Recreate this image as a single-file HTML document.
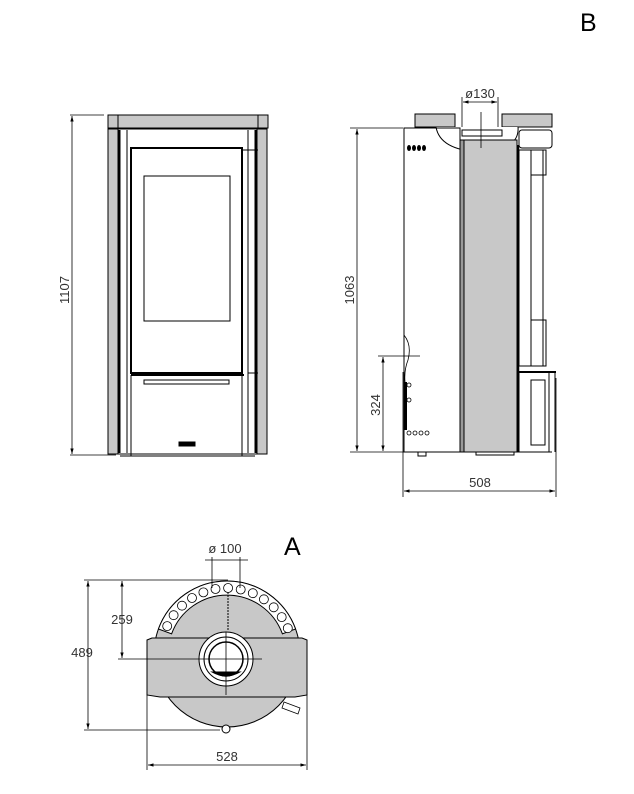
<!DOCTYPE html>
<html><head><meta charset="utf-8"><style>
html,body{margin:0;padding:0;background:#fff;}
svg{display:block;font-family:"Liberation Sans",sans-serif;}
</style></head><body>
<svg width="634" height="794" viewBox="0 0 634 794" xmlns="http://www.w3.org/2000/svg">
<defs>
<marker id="ar" viewBox="0 0 10 10" refX="10" refY="5" markerWidth="7" markerHeight="7" orient="auto-start-reverse"><path d="M0,2 L10,5 L0,8 z" fill="#000"/></marker>
</defs>
<g fill="none" stroke="#000" stroke-width="1">
<!-- FRONT VIEW -->
<rect x="108" y="115" width="160" height="13" fill="#c8c8c8"/>
<line x1="118" y1="115" x2="118" y2="128"/><line x1="258" y1="115" x2="258" y2="128"/>
<rect x="108" y="129" width="10" height="325" fill="#c8c8c8"/>
<rect x="257" y="129" width="10" height="325" fill="#c8c8c8"/>
<rect x="118" y="129" width="139" height="325"/>
<line x1="119" y1="130" x2="119" y2="453" stroke-width="3"/>
<line x1="256" y1="130" x2="256" y2="453" stroke-width="3"/>
<line x1="127" y1="130" x2="127" y2="453"/><line x1="248" y1="130" x2="248" y2="453"/>
<rect x="131" y="148" width="111" height="225" stroke-width="2"/>
<line x1="242" y1="150" x2="258" y2="150"/><line x1="248" y1="373" x2="258" y2="373"/>
<rect x="144" y="176" width="86" height="145"/>
<line x1="131" y1="375" x2="244" y2="375" stroke-width="2"/>
<rect x="144" y="380" width="85" height="4"/>
<line x1="131" y1="375" x2="131" y2="456"/><line x1="242" y1="375" x2="242" y2="456"/>
<line x1="120" y1="456" x2="255" y2="456"/>
<rect x="179" y="442" width="16" height="4" fill="#000"/>
<line x1="70" y1="115" x2="104" y2="115" stroke-width="0.8"/>
<line x1="70" y1="455" x2="116" y2="455" stroke-width="0.8"/>
<line x1="72" y1="116" x2="72" y2="454" stroke-width="0.8" marker-start="url(#ar)" marker-end="url(#ar)"/>

<!-- SIDE VIEW -->
<rect x="415" y="114" width="40" height="13" fill="#c8c8c8"/>
<rect x="502" y="114" width="50" height="13" fill="#c8c8c8"/>
<path d="M436,127 Q440,150 480,152 Q520,150 518,127" fill="#fff"/>
<rect x="462" y="130" width="40" height="6" fill="#fff"/>
<rect x="404" y="128" width="56" height="324"/>
<rect x="460" y="140" width="4" height="312" fill="#999"/>
<rect x="464" y="140" width="53" height="312" fill="#c8c8c8"/>
<line x1="518" y1="145" x2="518" y2="452" stroke-width="2.5"/>
<rect x="519" y="130" width="33" height="18" rx="3"/>
<rect x="519" y="150" width="24" height="216"/>
<line x1="531" y1="150" x2="531" y2="366"/>
<rect x="531" y="150" width="15" height="25"/>
<rect x="531" y="320" width="15" height="46"/>
<rect x="519" y="372" width="30" height="80"/>
<rect x="531" y="380" width="14" height="65"/>
<line x1="519" y1="372" x2="556" y2="372" stroke-width="2"/>
<line x1="555" y1="372" x2="555" y2="452"/>
<line x1="404" y1="452" x2="552" y2="452"/>
<rect x="418" y="452" width="8" height="4"/><rect x="476" y="452" width="38" height="3"/>
<g fill="#000" stroke="none">
<ellipse cx="409" cy="148" rx="2" ry="3"/><ellipse cx="414" cy="148" rx="2" ry="3"/><ellipse cx="419" cy="148" rx="2" ry="3"/><ellipse cx="424" cy="148" rx="2" ry="3"/>
<rect x="404" y="382" width="3" height="48"/>
</g>
<g stroke-width="0.8"><circle cx="409" cy="385" r="2"/><circle cx="409" cy="400" r="2"/><circle cx="409" cy="433" r="2"/><circle cx="415" cy="433" r="2"/><circle cx="421" cy="433" r="2"/><circle cx="427" cy="433" r="2"/></g>
<path d="M404,335 Q412,345 408,360 Q404,370 405,382" stroke-width="0.8"/>
<line x1="350" y1="128" x2="403" y2="128" stroke-width="0.8"/>
<line x1="350" y1="452" x2="404" y2="452" stroke-width="0.8"/>
<line x1="357" y1="129" x2="357" y2="451" stroke-width="0.8" marker-start="url(#ar)" marker-end="url(#ar)"/>
<line x1="378" y1="356" x2="420" y2="356" stroke-width="0.8"/>
<line x1="383" y1="357" x2="383" y2="451" stroke-width="0.8" marker-start="url(#ar)" marker-end="url(#ar)"/>
<line x1="403" y1="372" x2="403" y2="497" stroke-width="0.8"/>
<line x1="556" y1="378" x2="556" y2="497" stroke-width="0.8"/>
<line x1="404" y1="491" x2="555" y2="491" stroke-width="0.8" marker-start="url(#ar)" marker-end="url(#ar)"/>
<line x1="462" y1="97" x2="462" y2="127" stroke-width="0.8"/>
<line x1="498" y1="97" x2="498" y2="127" stroke-width="0.8"/>
<line x1="463" y1="102" x2="497" y2="102" stroke-width="0.8" marker-start="url(#ar)" marker-end="url(#ar)"/>
<line x1="481" y1="112" x2="481" y2="148" stroke-width="0.8"/>

<!-- TOP VIEW -->
<circle cx="227" cy="654" r="73" fill="#c8c8c8"/>
<path d="M152,638 L147,640 L147,695 L160,697 L295,697 L307,695 L307,640 L302,638 Z" fill="#c8c8c8"/>
<path d="M158.4,629 A73,73 0 0 1 295.6,629 L282.4,633.8 A59,59 0 0 0 171.6,633.8 Z" fill="#fff"/>
<g stroke-width="0.8" fill="#fff">
<circle cx="167.2" cy="626.1" r="4.5"/><circle cx="173.6" cy="615.2" r="4.5"/><circle cx="182" cy="605.7" r="4.5"/><circle cx="192" cy="598" r="4.5"/><circle cx="203.4" cy="592.4" r="4.5"/><circle cx="215.5" cy="589" r="4.5"/><circle cx="228.1" cy="588" r="4.5"/><circle cx="240.7" cy="589.5" r="4.5"/><circle cx="252.8" cy="593.2" r="4.5"/><circle cx="263.9" cy="599.3" r="4.5"/><circle cx="273.7" cy="607.3" r="4.5"/><circle cx="281.7" cy="617.1" r="4.5"/><circle cx="287.8" cy="628.2" r="4.5"/>
</g>
<circle cx="226" cy="659" r="27" fill="#fff"/>
<circle cx="226" cy="659" r="22" fill="#fff"/>
<circle cx="226" cy="659" r="17" fill="#fff" stroke-width="1.5"/>
<path d="M212,672 Q226,680 240,672 Z" fill="#000"/>
<circle cx="226" cy="729" r="4" fill="#fff"/>
<path d="M284,702 L300,708 L298,714 L282,708 Z" fill="#fff" stroke-width="0.8"/>
<line x1="228" y1="592" x2="228" y2="631" stroke-width="1" stroke-dasharray="2,1"/>
<line x1="226" y1="632" x2="226" y2="695" stroke-width="0.8"/>
<line x1="118" y1="659" x2="262" y2="659" stroke-width="0.8"/>
<line x1="84" y1="580" x2="228" y2="580" stroke-width="0.8"/>
<line x1="84" y1="730" x2="220" y2="730" stroke-width="0.8"/>
<line x1="88" y1="581" x2="88" y2="729" stroke-width="0.8" marker-start="url(#ar)" marker-end="url(#ar)"/>
<line x1="122" y1="581" x2="122" y2="658" stroke-width="0.8" marker-start="url(#ar)" marker-end="url(#ar)"/>
<line x1="147" y1="670" x2="147" y2="770" stroke-width="0.8"/>
<line x1="307" y1="670" x2="307" y2="770" stroke-width="0.8"/>
<line x1="148" y1="765" x2="306" y2="765" stroke-width="0.8" marker-start="url(#ar)" marker-end="url(#ar)"/>
<line x1="212" y1="557" x2="212" y2="588" stroke-width="0.8"/>
<line x1="240" y1="557" x2="240" y2="588" stroke-width="0.8"/>
<line x1="205" y1="560" x2="248" y2="560" stroke-width="0.8"/>
</g>
<g fill="#333" font-size="13">
<text x="0" y="0" transform="translate(69,290) rotate(-90)" text-anchor="middle">1107</text>
<text x="0" y="0" transform="translate(354,290) rotate(-90)" text-anchor="middle">1063</text>
<text x="0" y="0" transform="translate(380,405) rotate(-90)" text-anchor="middle">324</text>
<text x="480" y="487" text-anchor="middle">508</text>
<text x="480" y="98" text-anchor="middle">ø130</text>
<text x="82" y="657" text-anchor="middle">489</text>
<text x="122" y="624" text-anchor="middle">259</text>
<text x="227" y="761" text-anchor="middle">528</text>
<text x="225" y="553" text-anchor="middle">ø  100</text>
</g>
<text x="580" y="31" font-size="25" fill="#000">B</text>
<text x="284" y="555" font-size="25" fill="#000">A</text>
</svg>
</body></html>
